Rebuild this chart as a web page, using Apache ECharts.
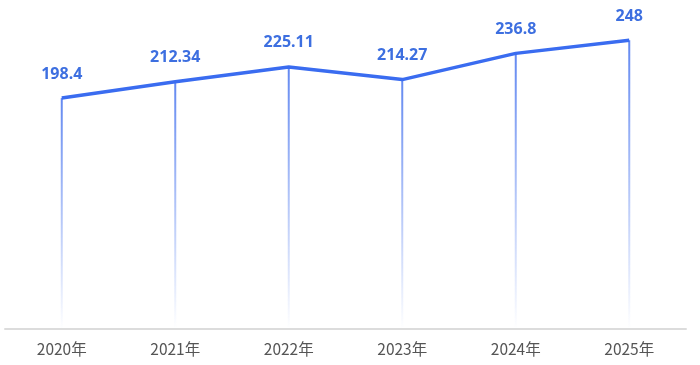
<!DOCTYPE html>
<html><head><meta charset="utf-8">
<script src="https://cdn.jsdelivr.net/npm/echarts@6/dist/echarts.min.js"></script>
<style>html,body{margin:0;padding:0;background:#fff}#c{width:700px;height:365px}</style>
</head><body><div id="c"></div>
<script>
const categories = ['2020年','2021年','2022年','2023年','2024年','2025年'];
const values = [198.4, 212.34, 225.11, 214.27, 236.8, 248];

const chart = echarts.init(document.getElementById('c'));
chart.setOption({
  animation: false,
  grid: { left: 5, right: 14, top: 38, bottom: 36 },
  xAxis: {
    type: 'category', data: categories, boundaryGap: true,
    axisLine: { lineStyle: { color: '#dcdcdc', width: 2 } },
    axisTick: { show: false },
    axisLabel: { color: '#555', fontSize: 15.5, margin: 12, fontFamily: 'Noto Sans CJK SC' }
  },
  yAxis: { type: 'value', min: 0, max: 250, show: false, splitLine: { show: false } },
  series: [
    {
      type: 'bar', data: values, barWidth: 2, z: 1,
      itemStyle: {
        color: new echarts.graphic.LinearGradient(0, 0, 0, 1, [
          { offset: 0, color: 'rgba(90,130,240,0.95)' },
          { offset: 1, color: 'rgba(90,130,240,0)' }
        ])
      }
    },
    {
      type: 'line', data: values, z: 3, symbol: 'circle', symbolSize: 0.1,
      itemStyle: { color: '#3a6cf0' },
      lineStyle: { color: '#3a6cf0', width: 3.5 },
      label: {
        show: true, position: 'top', distance: 16,
        color: '#3d6fe0', fontSize: 16, fontWeight: 'bold', fontFamily: 'Noto Sans'
      }
    }
  ]
});
</script></body></html>
